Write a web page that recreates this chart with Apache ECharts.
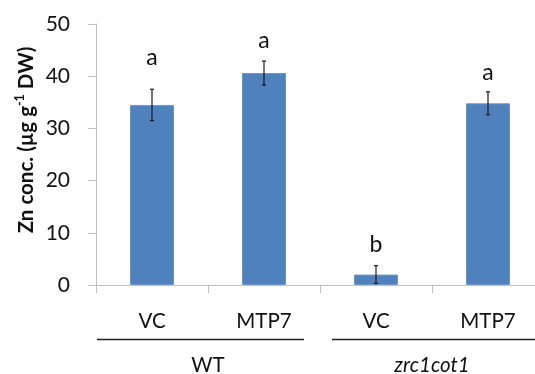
<!DOCTYPE html>
<html>
<head>
<meta charset="utf-8">
<script src="https://cdn.jsdelivr.net/npm/echarts@6/dist/echarts.min.js"></script>
<style>
  html, body { margin: 0; padding: 0; background: #ffffff; }
  #chart { width: 535px; height: 374px; }
</style>
</head>
<body>
<div id="chart"></div>
<script>
// ---- data ----
const categories = ['VC', 'MTP7', 'VC', 'MTP7'];
const groups = ['WT', 'zrc1cot1'];
const values = [34.5, 40.6, 2.0, 34.8];
const errors = [3.0, 2.3, 1.7, 2.2];
const letters = ['a', 'a', 'b', 'a'];
const yTicks = [0, 10, 20, 30, 40, 50];

// ---- style ----
const FONT = 'Lato, "Open Sans", sans-serif';
const LETTER_GAP = [32, 20, 21, 19];
const BAR_COLOR = '#4f81bd';
const AXIS_COLOR = '#bfbfbf';

const chart = echarts.init(document.getElementById('chart'), null, { renderer: 'canvas' });

const option = {
  animation: false,
  backgroundColor: '#ffffff',
  textStyle: { fontFamily: FONT },
  grid: { left: 96, right: -9, top: 24, bottom: 89, containLabel: false, outerBoundsMode: 'none' },
  xAxis: [
    {
      type: 'category',
      data: categories,
      axisLine: { show: true, lineStyle: { color: AXIS_COLOR, width: 1 } },
      axisTick: { show: true, length: 8, lineStyle: { color: AXIS_COLOR } },
      axisLabel: { color: '#111', fontSize: 20.5, fontFamily: FONT, margin: 26 },
      splitLine: { show: false }
    },
    {
      type: 'category',
      data: groups,
      position: 'bottom',
      axisLine: { show: false },
      axisTick: { show: false },
      axisLabel: {
        color: '#111', fontSize: 20.5, fontFamily: FONT, margin: 70,
        formatter: function (v) { return v === 'zrc1cot1' ? '{i|' + v + '}' : v; },
        rich: { i: { fontStyle: 'italic', fontSize: 20.5, fontFamily: FONT, color: '#111' } }
      },
      splitLine: { show: false }
    }
  ],
  yAxis: {
    type: 'value',
    min: yTicks[0],
    max: yTicks[yTicks.length - 1],
    interval: yTicks[1] - yTicks[0],
    axisLine: { show: true, lineStyle: { color: AXIS_COLOR, width: 1 } },
    axisTick: { show: true, length: 8, lineStyle: { color: AXIS_COLOR } },
    axisLabel: { color: '#111', fontSize: 21, fontFamily: FONT, margin: 26 },
    splitLine: { show: false }
  },
  series: [
    {
      type: 'bar',
      data: values,
      barWidth: 44,
      itemStyle: { color: BAR_COLOR, borderColor: '#6f94c8', borderWidth: 1 }
    },
    {
      type: 'custom',
      data: values.map(function (v, i) { return [i, v, errors[i]]; }),
      z: 10,
      renderItem: function (params, api) {
        const i = api.value(0);
        const v = api.value(1);
        const e = api.value(2);
        const top = api.coord([i, v + e]);
        const bot = api.coord([i, Math.max(0, v - e)]);
        const cap = 2;
        const ls = { stroke: '#1a1a1a', lineWidth: 1.2 };
        return {
          type: 'group',
          children: [
            { type: 'line', shape: { x1: top[0], y1: top[1], x2: bot[0], y2: bot[1] }, style: ls },
            { type: 'line', shape: { x1: top[0] - cap, y1: top[1], x2: top[0] + cap, y2: top[1] }, style: ls },
            { type: 'line', shape: { x1: bot[0] - cap, y1: bot[1], x2: bot[0] + cap, y2: bot[1] }, style: ls },
            {
              type: 'text',
              style: {
                x: top[0], y: top[1] - LETTER_GAP[i],
                text: letters[i],
                fill: '#111', font: '23px ' + FONT,
                align: 'center', verticalAlign: 'middle'
              }
            }
          ]
        };
      }
    }
  ]
};

chart.setOption(option);

// group underline bars and y-axis title
function drawDecor() {
  const c0 = chart.convertToPixel({ xAxisIndex: 0 }, 0);
  const c1 = chart.convertToPixel({ xAxisIndex: 0 }, 1);
  const band = c1 - c0;
  const left = c0 - band / 2;
  const mid = c1 + band / 2;
  const yLine = 339.5;
  const W = chart.getWidth();
  chart.setOption({
    graphic: [
      { type: 'line', shape: { x1: left + 1, y1: yLine, x2: mid - 16, y2: yLine }, style: { stroke: '#222', lineWidth: 1.5 } },
      { type: 'line', shape: { x1: mid + 12, y1: yLine, x2: W, y2: yLine }, style: { stroke: '#222', lineWidth: 1.5 } },
      {
        type: 'text',
        x: 26, y: 140, rotation: Math.PI / 2,
        style: {
          text: '{b|Zn conc. (µg g}{s|-1}{b| DW)}',
          align: 'center', verticalAlign: 'middle',
          rich: {
            b: { fontSize: 20.5, fontWeight: 'bold', fontFamily: FONT, fill: '#111', color: '#111', lineHeight: 25 },
            s: { fontSize: 12.5, fontWeight: 'bold', fontFamily: FONT, fill: '#111', color: '#111', lineHeight: 25, verticalAlign: 'top' }
          }
        }
      }
    ]
  });
}
drawDecor();
</script>
</body>
</html>
